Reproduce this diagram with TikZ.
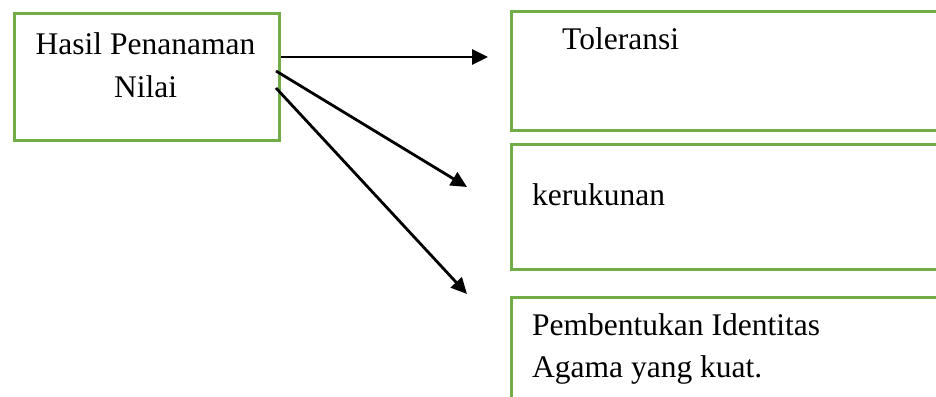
\documentclass[tikz,border=0pt]{standalone}
\usepackage{fontspec}
\setmainfont{Liberation Serif}
\usetikzlibrary{arrows.meta,calc}
\definecolor{boxgreen}{RGB}{112,173,71}
\tikzset{
  x=1pt, y=-1pt,
  greenbox/.style={draw=boxgreen, line width=3pt, rectangle, inner sep=0pt, anchor=north west},
  label text/.style={inner sep=0pt, anchor=base west, font=\fontsize{31.5}{42}\selectfont},
  centre text/.style={inner sep=0pt, anchor=base, font=\fontsize{31.5}{42}\selectfont},
  flow/.style={draw=black, line width=2.8pt, -{Triangle[length=16pt,width=15pt]}}
}
\begin{document}
\begin{tikzpicture}
  \useasboundingbox (0,0) rectangle (936,396);
  \clip (0,0) rectangle (936,396);

  % source box
  \node[greenbox, minimum width=265pt, minimum height=127pt] (src) at (13,12) {};
  \node[centre text] (srctext1) at (145.5,55) {Hasil Penanaman};
  \node[centre text] (srctext2) at (145.5,97) {Nilai};

  % target boxes, running past the right and bottom edges
  \node[greenbox, minimum width=440pt, minimum height=119pt] (tol) at (510,10) {};
  \node[label text] (toltext) at (562,50) {Toleransi};

  \node[greenbox, minimum width=440pt, minimum height=125pt] (ker) at (510,143) {};
  \node[label text] (kertext) at (532,205) {kerukunan};

  \node[greenbox, minimum width=440pt, minimum height=120pt] (ida) at (510,296) {};
  \node[label text] (idatext1) at (532,335) {Pembentukan Identitas};
  \node[label text] (idatext2) at (532,377) {Agama yang kuat.};

  % arrow start and end points
  \coordinate (s1) at ($(src.north east)+(0,45)$);
  \coordinate (s2) at ($(src.north east)+(-5,59)$);
  \coordinate (s3) at ($(src.north east)+(-5,76)$);
  \coordinate (e1) at (488,57);
  \coordinate (e2) at (467,187);
  \coordinate (e3) at (467,294);

  \draw[flow] (s1) -- (e1);
  \draw[flow] (s2) -- (e2);
  \draw[flow] (s3) -- (e3);
\end{tikzpicture}
\end{document}
